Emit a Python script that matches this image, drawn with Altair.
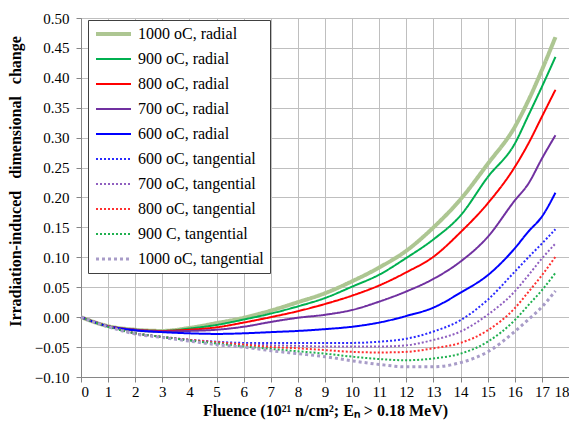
import altair as alt
import pandas as pd

fluence = [0, 1, 2, 3, 4, 5, 6, 7, 8, 9, 10, 11, 12, 13, 14, 15, 16, 16.5, 17, 17.5]

r1000 = [0, -0.015, -0.021, -0.023, -0.018, -0.010, -0.001, 0.011, 0.025, 0.040, 0.060, 0.083, 0.111, 0.150, 0.197, 0.256, 0.318, 0.362, 0.413, 0.468]
r900 = [0, -0.015, -0.021, -0.023, -0.019, -0.013, -0.004, 0.006, 0.018, 0.032, 0.051, 0.071, 0.099, 0.130, 0.170, 0.234, 0.290, 0.337, 0.385, 0.435]
r800 = [0, -0.015, -0.021, -0.023, -0.021, -0.017, -0.009, 0.000, 0.010, 0.022, 0.036, 0.053, 0.075, 0.101, 0.142, 0.190, 0.251, 0.290, 0.335, 0.380]
r700 = [0, -0.015, -0.021, -0.024, -0.023, -0.021, -0.016, -0.008, -0.001, 0.004, 0.012, 0.026, 0.043, 0.064, 0.093, 0.134, 0.195, 0.223, 0.265, 0.304]
r600 = [0, -0.015, -0.022, -0.025, -0.027, -0.028, -0.027, -0.025, -0.023, -0.020, -0.016, -0.009, 0.002, 0.016, 0.041, 0.070, 0.115, 0.143, 0.168, 0.208]
t600 = [0, -0.015, -0.027, -0.033, -0.038, -0.041, -0.043, -0.043, -0.043, -0.043, -0.043, -0.041, -0.036, -0.024, -0.005, 0.029, 0.076, 0.100, 0.123, 0.147]
t700 = [0, -0.015, -0.027, -0.033, -0.038, -0.042, -0.045, -0.047, -0.048, -0.049, -0.049, -0.049, -0.047, -0.038, -0.024, 0.004, 0.043, 0.070, 0.098, 0.123]
t800 = [0, -0.015, -0.027, -0.033, -0.038, -0.042, -0.046, -0.050, -0.052, -0.055, -0.058, -0.059, -0.058, -0.052, -0.043, -0.022, 0.015, 0.042, 0.070, 0.101]
t900 = [0, -0.016, -0.027, -0.033, -0.039, -0.044, -0.049, -0.053, -0.057, -0.061, -0.066, -0.070, -0.072, -0.069, -0.061, -0.041, -0.005, 0.020, 0.045, 0.074]
t1000 = [0, -0.016, -0.028, -0.034, -0.040, -0.046, -0.050, -0.056, -0.061, -0.066, -0.073, -0.079, -0.083, -0.083, -0.076, -0.058, -0.024, -0.004, 0.017, 0.044]

series_names = [
    "1000 oC, radial", "900 oC, radial", "800 oC, radial", "700 oC, radial", "600 oC, radial",
    "600 oC, tangential", "700 oC, tangential", "800 oC, tangential", "900 C, tangential", "1000 oC, tangential",
]
series_values = [r1000, r900, r800, r700, r600, t600, t700, t800, t900, t1000]

colors = ["#adc692", "#00b050", "#ff0000", "#7030a0", "#0000ff",
          "#2a2aff", "#9060c0", "#ff3030", "#20b050", "#a89cc8"]
dashes = [[1, 0], [1, 0], [1, 0], [1, 0], [1, 0],
          [2, 2], [2, 2], [2, 2], [2, 2], [3, 3]]
widths = [4, 2, 2, 2, 2, 2, 2, 2, 2, 3]

rows = []
for order, (name, vals) in enumerate(zip(series_names, series_values)):
    for xv, yv in zip(fluence, vals):
        rows.append({"fluence": xv, "change": yv, "series": name, "order": order})
df = pd.DataFrame(rows)

FONT = "Liberation Serif"
NB = "\u00a0"
y_title = "Irradiation-induced" + NB * 3 + "dimensional" + NB * 3 + "change"

leg = alt.Legend(
    title=None, orient="none", legendX=7, legendY=2,
    strokeColor="#404040", fillColor="white", padding=6,
    labelFont=FONT, labelFontSize=16, labelColor="black", labelOffset=5,
    symbolType="stroke", symbolSize=1225, clipHeight=16, rowPadding=9,
    labelLimit=300,
)

chart = alt.Chart(df).mark_line(interpolate="monotone").encode(
    x=alt.X("fluence:Q", scale=alt.Scale(domain=[0, 18], nice=False),
            axis=alt.Axis(values=list(range(0, 19)), format="d",
                          title="Fluence (10²¹ n/cm²;  Eₙ > 0.18 MeV)",
                          titleFontSize=16)),
    y=alt.Y("change:Q", scale=alt.Scale(domain=[-0.10, 0.50], nice=False),
            axis=alt.Axis(values=[round(-0.10 + 0.05 * i, 2) for i in range(13)], format=".2f",
                          title=y_title, titleFontSize=16, titleY=163)),
    color=alt.Color("series:N", scale=alt.Scale(domain=series_names, range=colors), legend=leg),
    strokeDash=alt.StrokeDash("series:N", scale=alt.Scale(domain=series_names, range=dashes), legend=leg),
    strokeWidth=alt.StrokeWidth("series:N", scale=alt.Scale(type="ordinal", domain=series_names, range=widths), legend=leg),
    detail="series:N",
    order=alt.Order("order:Q"),
).properties(
    width=488, height=359,
    autosize=alt.AutoSizeParams(type="none"),
    padding={"left": 73, "top": 10, "right": 0, "bottom": 48},
).configure(
    font=FONT,
).configure_view(
    stroke="#95b3d7", strokeWidth=1,
).configure_axis(
    labelFont=FONT, labelFontSize=15, labelColor="black",
    titleFont=FONT, titleFontSize=15, titleFontWeight="bold", titleColor="black",
    gridColor="#bfbfbf", gridWidth=1, domainColor="#868686", tickColor="#868686",
    tickSize=5,
).configure_axisY(
    labelPadding=7, titlePadding=11,
).configure_axisX(
    labelPadding=2, titlePadding=3,
)

chart.save("out.html", embed_options={"renderer": "svg", "actions": False})
